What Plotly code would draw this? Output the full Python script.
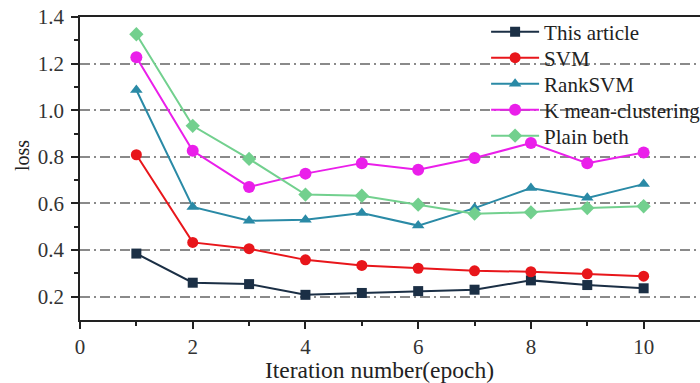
import plotly.graph_objects as go

epochs = [1, 2, 3, 4, 5, 6, 7, 8, 9, 10]
this_article = [0.385, 0.26, 0.254, 0.208, 0.216, 0.224, 0.23, 0.27, 0.25, 0.236]
svm = [0.809, 0.433, 0.406, 0.358, 0.334, 0.322, 0.311, 0.307, 0.298, 0.288]
rank_svm = [1.087, 0.585, 0.526, 0.53, 0.559, 0.505, 0.58, 0.666, 0.624, 0.683]
k_mean = [1.227, 0.826, 0.671, 0.728, 0.773, 0.745, 0.795, 0.859, 0.773, 0.819]
plain_beth = [1.326, 0.933, 0.791, 0.638, 0.633, 0.595, 0.556, 0.562, 0.58, 0.588]

x_ticks = [0, 2, 4, 6, 8, 10]
y_ticks = [0.2, 0.4, 0.6, 0.8, 1.0, 1.2, 1.4]
y_ticklabels = ["0.2", "0.4", "0.6", "0.8", "1.0", "1.2", "1.4"]

series = [
    ("This article", this_article, "#1b2f45", "square", 10),
    ("SVM", svm, "#e8161b", "circle", 11),
    ("RankSVM", rank_svm, "#2a8aa6", "triangle-up", 11),
    ("K mean-clustering", k_mean, "#ea1fea", "circle", 12),
    ("Plain beth", plain_beth, "#72d08e", "diamond", 11),
]

font = "Liberation Serif, Times New Roman, serif"
legend_rows_px = [32, 58, 84, 110, 136]

fig = go.Figure()
legend_layouts = {}
for i, (name, vals, color, sym, size) in enumerate(series):
    lname = "legend" if i == 0 else f"legend{i + 1}"
    fig.add_trace(go.Scatter(
        x=epochs, y=vals, name=name, mode="lines+markers",
        line=dict(color=color, width=2),
        marker=dict(color=color, symbol=sym, size=size),
        legend=lname,
    ))
    legend_layouts[lname] = dict(
        x=0.655, y=(320 - legend_rows_px[i]) / 303, xanchor="left", yanchor="middle",
        bgcolor="rgba(0,0,0,0)", font=dict(size=21, family=font, color="#222"),
        itemwidth=48,
    )

fig.update_layout(
    width=700, height=383,
    margin=dict(l=80, r=0, t=17, b=63, autoexpand=False),
    plot_bgcolor="white", paper_bgcolor="white",
    font=dict(family=font, size=20, color="#222"),
    showlegend=True,
    **legend_layouts,
    xaxis=dict(
        range=[0, 11], tickvals=x_ticks,
        showgrid=False, zeroline=False,
        showline=True, linecolor="#222", linewidth=1.5, mirror=True,
        ticks="outside", ticklen=7, tickwidth=1.5, tickcolor="#222",
        minor=dict(tickvals=[1, 3, 5, 7, 9], ticks="outside", ticklen=4, tickwidth=1.5, tickcolor="#222"),
        tickfont=dict(size=21, family=font, color="#333"),
    ),
    yaxis=dict(
        range=[0.1, 1.4], tickvals=y_ticks, ticktext=y_ticklabels,
        showgrid=True, gridcolor="#8a8a8a", gridwidth=1.5, griddash="10px,4px,2px,4px",
        zeroline=False,
        showline=True, linecolor="#222", linewidth=1.5,
        ticks="outside", ticklen=7, tickwidth=1.5, tickcolor="#222",
        minor=dict(tickvals=[0.3, 0.5, 0.7, 0.9, 1.1, 1.3], ticks="outside", ticklen=4, tickwidth=1.5, tickcolor="#222", showgrid=False),
        tickfont=dict(size=21, family=font, color="#333"),
        ticklabelstandoff=3,
    ),
    annotations=[
        dict(text="Iteration number(epoch)", xref="paper", yref="paper",
             x=(379 - 80) / 620, y=-(370 - 320) / 303, xanchor="center", yanchor="middle",
             showarrow=False, font=dict(size=23.5, family=font, color="#222")),
        dict(text="loss", xref="paper", yref="paper", textangle=-90,
             x=-(80 - 22) / 620, y=(320 - 156) / 303, xanchor="center", yanchor="middle",
             showarrow=False, font=dict(size=20, family=font, color="#222")),
    ],
)

fig.write_html("out.html")
